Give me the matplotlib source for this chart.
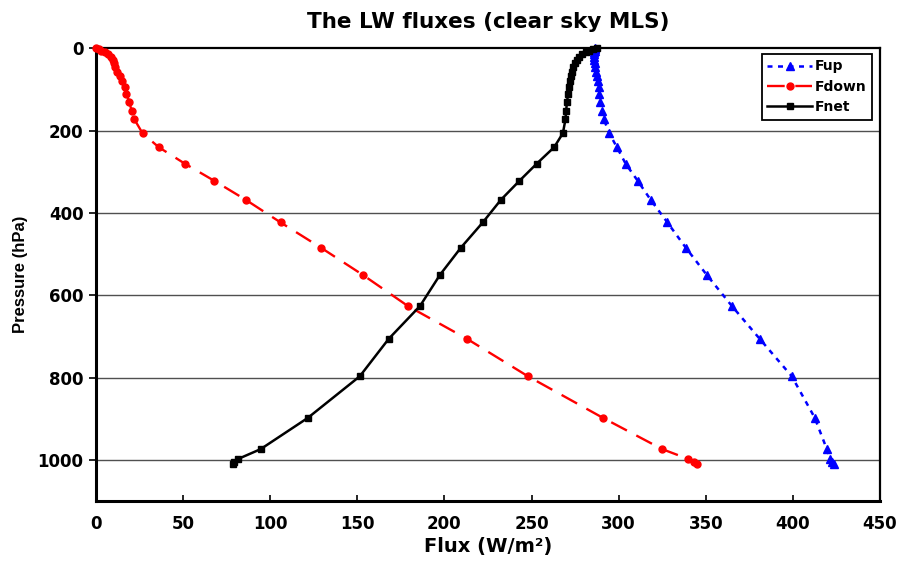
"""
LW fluxes for a clear-sky MLS profile: Fup, Fdown and Fnet against pressure.
"""

import matplotlib
matplotlib.use('Agg')
import matplotlib.pyplot as plt
from matplotlib.lines import Line2D

# =============================================================================
# 1. DATA
# =============================================================================

pressure = [0, 2, 5, 9, 14, 20, 27, 35, 44, 56, 68, 80, 93, 110, 129, 153, 172,
            206, 240, 280, 322, 368, 423, 484, 550, 626, 706, 797, 898, 974,
            998, 1005, 1010]

fup = [286.5, 286.5, 286.3, 286.0, 285.8, 285.8, 286.0, 286.3, 286.6, 287.0,
       287.5, 288.0, 288.5, 289.0, 289.4, 290.4, 291.5, 294.6, 299.0, 304.0,
       311.0, 318.4, 328.0, 338.5, 350.5, 365.0, 381.0, 399.4, 412.6, 419.5,
       421.5, 422.5, 423.5]

fdown = [0.0, 1.5, 3.0, 5.0, 7.0, 8.5, 9.5, 10.2, 11.0, 12.0, 13.5, 15.0, 16.5,
         17.5, 19.0, 20.6, 22.0, 26.7, 36.0, 51.0, 68.0, 86.0, 106.0, 129.0,
         153.0, 179.0, 213.0, 248.0, 291.0, 325.0, 340.0, 343.0, 345.0]

fnet = [287.5, 285.0, 283.0, 281.0, 278.8, 277.0, 276.0, 275.0, 274.0, 273.5,
        272.5, 272.0, 271.5, 271.0, 270.4, 269.8, 269.5, 268.0, 263.0, 253.0,
        243.0, 232.4, 222.0, 209.5, 197.5, 186.0, 168.0, 151.4, 121.6, 94.5,
        81.5, 79.5, 78.5]

x_ticks = [0, 50, 100, 150, 200, 250, 300, 350, 400, 450]
y_ticks = [0, 200, 400, 600, 800, 1000]

# =============================================================================
# 2. FIGURE
# =============================================================================

fig = plt.figure(figsize=(8.98, 5.61), dpi=100)
ax = fig.add_axes([0.1069, 0.1070, 0.873, 0.8066])

# horizontal grid lines
for p in y_ticks[1:]:
    ax.axhline(p, color='#505050', linewidth=1.0, zorder=1)

# Fup: blue, short dashes, triangles
ax.plot(fup, pressure, color='#0000ff', linewidth=1.8, dashes=(2, 2.2),
        zorder=3)
ax.plot(fup, pressure, linestyle='none', marker='^', markersize=6,
        color='#0000ff', clip_on=False, zorder=4)

# Fdown: red, long dashes, circles
ax.plot(fdown, pressure, color='#ff0000', linewidth=1.7, dashes=(7.5, 4.5),
        zorder=3)
ax.plot(fdown, pressure, linestyle='none', marker='o', markersize=5,
        color='#ff0000', clip_on=False, zorder=4)

# Fnet: black, solid, squares
ax.plot(fnet, pressure, color='black', linewidth=1.8, zorder=3)
ax.plot(fnet, pressure, linestyle='none', marker='s', markersize=4.5,
        color='black', clip_on=False, zorder=4)

# =============================================================================
# 3. AXES
# =============================================================================

ax.set_xlim(0, 450)
ax.set_ylim(1100, 0)
ax.set_xticks(x_ticks)
ax.set_yticks(y_ticks)

ax.tick_params(axis='x', direction='in', length=4, width=1.2, pad=10,
               labelsize=12, top=False)
ax.tick_params(axis='y', direction='out', length=5, width=1.2, pad=4,
               labelsize=12, right=False)
for lab in ax.get_xticklabels() + ax.get_yticklabels():
    lab.set_fontweight('bold')

for side in ['left', 'bottom']:
    ax.spines[side].set_linewidth(2.2)
for side in ['top', 'right']:
    ax.spines[side].set_linewidth(1.6)

ax.set_title('The LW fluxes (clear sky MLS)', fontsize=15.5,
             fontweight='bold', pad=15)
ax.set_xlabel('Flux (W/m²)', fontsize=14, fontweight='bold', labelpad=3)
ax.set_ylabel('Pressure (hPa)', fontsize=12, fontweight='bold',
              family='Liberation Sans', labelpad=7)

# legend with proxy handles (line + marker)
handles = [
    Line2D([], [], color='#0000ff', linewidth=1.8, dashes=(2, 2.2),
           marker='^', markersize=6),
    Line2D([], [], color='#ff0000', linewidth=1.7, dashes=(7.5, 4.5),
           marker='o', markersize=5),
    Line2D([], [], color='black', linewidth=1.8, marker='s', markersize=4.5),
]
leg = ax.legend(handles, ['Fup', 'Fdown', 'Fnet'], loc='upper right',
                bbox_to_anchor=(0.9898, 0.988), borderaxespad=0,
                prop={'weight': 'bold', 'size': 10}, fancybox=False,
                framealpha=1, edgecolor='black', handlelength=3.2,
                handletextpad=0.2, labelspacing=0.45, borderpad=0.4)
leg.get_frame().set_linewidth(1.3)

fig.savefig('out.png', dpi=100)
